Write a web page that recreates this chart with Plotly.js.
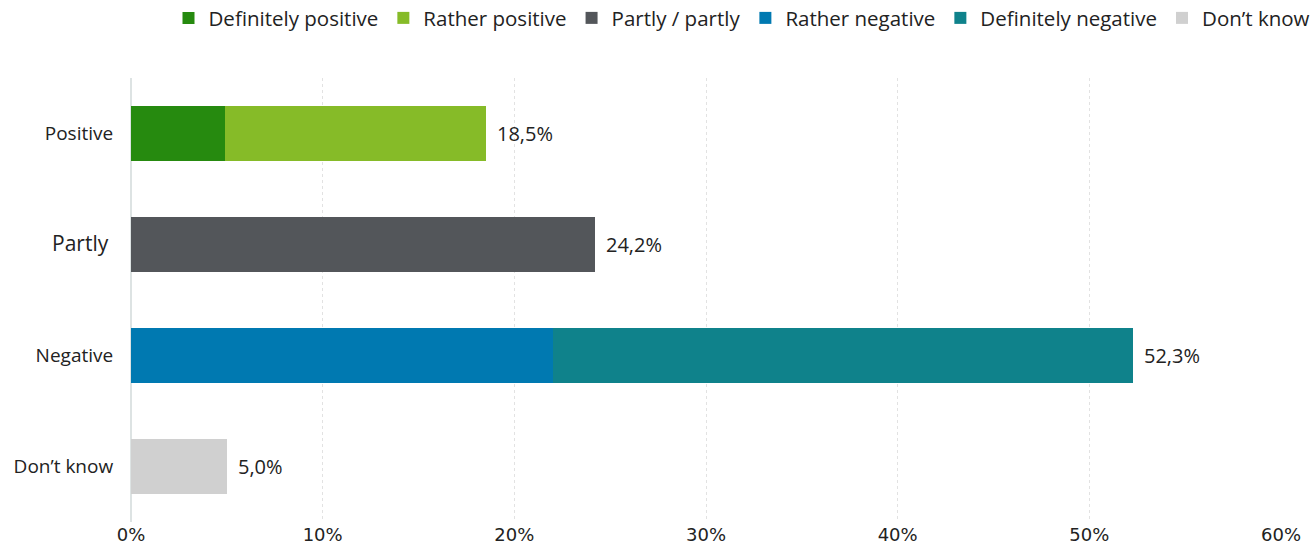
<!DOCTYPE html>
<html><head><meta charset="utf-8">
<script src="https://cdn.plot.ly/plotly-3.0.1.min.js"></script>
<style>html,body{margin:0;padding:0;background:#fff}#chart{width:1314px;height:556px}</style>
</head><body><div id="chart"></div>
<script>
const categories = ["Positive", "Partly", "Negative", "Don’t know"];
const seriesNames = ["Definitely positive", "Rather positive", "Partly / partly", "Rather negative", "Definitely negative", "Don’t know"];
const definitelyPositive = [4.9, 0, 0, 0];
const ratherPositive = [13.6, 0, 0, 0];
const partlyPartly = [0, 24.2, 0, 0];
const ratherNegative = [0, 0, 22.0, 0];
const definitelyNegative = [0, 0, 30.3, 0];
const dontKnow = [0, 0, 0, 5.0];
const totals = [18.5, 24.2, 52.3, 5.0];
const xTicks = [0, 10, 20, 30, 40, 50, 60];
const colors = ["#268a0f", "#86bb28", "#53565a", "#0079b1", "#0f828b", "#d0d0d0"];

const seriesValues = [definitelyPositive, ratherPositive, partlyPartly, ratherNegative, definitelyNegative, dontKnow];
const traces = seriesValues.map((vals, i) => ({
  type: 'bar', orientation: 'h', name: seriesNames[i],
  y: categories, x: vals.map(v => v === 0 ? null : v),
  marker: {color: colors[i]}, hoverinfo: 'x+name'
}));

const fmt = v => v.toFixed(1).replace('.', ',') + '%';
const annotations = categories.map((c, i) => ({
  x: totals[i], y: c, xref: 'x', yref: 'y', text: fmt(totals[i]),
  showarrow: false, xanchor: 'left', xshift: 9,
  font: {family: 'Open Sans', size: 20, color: '#222'}
}));

const tickText = categories.map(c => c === 'Partly' ? '<span style="font-size:21px">Partly</span> ' : c);

const layout = {
  width: 1314, height: 556,
  margin: {l: 131, r: 33, t: 78, b: 34, autoexpand: false},
  barmode: 'stack', bargap: 0.5,
  paper_bgcolor: '#fff', plot_bgcolor: '#fff',
  showlegend: true,
  legend: {orientation: 'h', x: 1.03, xanchor: 'right', y: 1.135, yanchor: 'middle',
    font: {family: 'Open Sans', size: 20.5, color: '#222'}, traceorder: 'normal', tracegroupgap: 0},
  xaxis: {range: [0, 60], tickvals: xTicks, ticktext: xTicks.map(t => t + '%'),
    showgrid: true, gridcolor: '#e2e2e2', griddash: 'dot', gridwidth: 1,
    zeroline: true, zerolinecolor: '#dde3e3', zerolinewidth: 2,
    showline: false, ticks: '', ticklen: 0,
    tickfont: {family: 'DejaVu Sans', size: 18, color: '#222'}},
  yaxis: {autorange: 'reversed', tickvals: categories, ticktext: tickText,
    showgrid: false, zeroline: false, showline: false, ticks: 'outside', ticklen: 13, tickcolor: 'rgba(0,0,0,0)',
    tickfont: {family: 'Open Sans', size: 19, color: '#222'}},
  annotations: annotations
};
Plotly.newPlot('chart', traces, layout, {displayModeBar: false, staticPlot: true});
</script></body></html>
